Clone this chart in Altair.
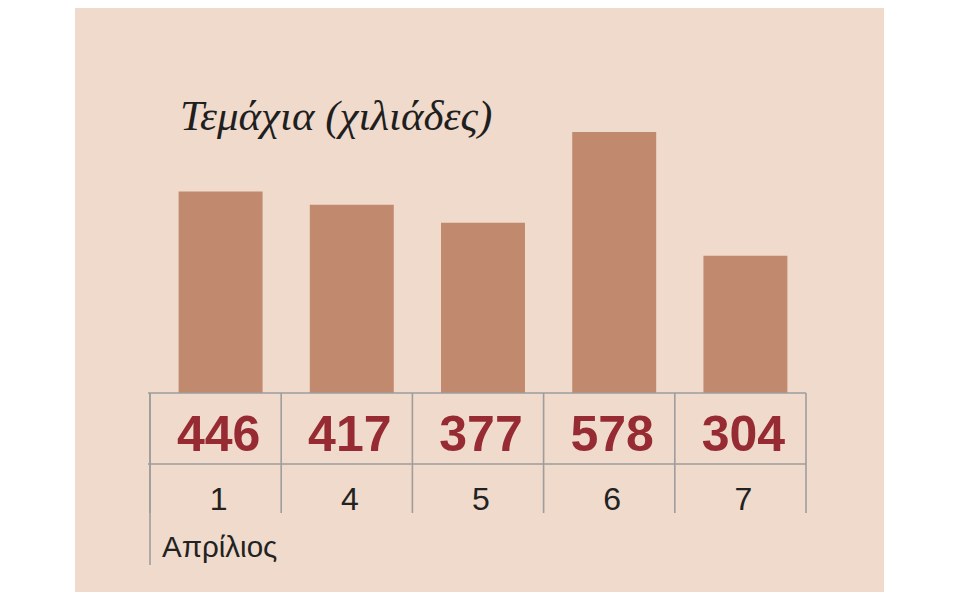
import altair as alt
import pandas as pd

# data
days = ["1", "4", "5", "6", "7"]
pieces = [446, 417, 377, 578, 304]
month_label = "Απρίλιος"
title_text = "Τεμάχια (χιλιάδες)"

PANEL = "#f0dacb"
BAR = "#c18a6f"
VALUE_RED = "#962b33"
GRID = "#9d9d9d"

W, H = 656, 261

df = pd.DataFrame({"day": days, "pieces": pieces})
x_scale = alt.Scale(domain=days, paddingInner=0, paddingOuter=0)
x_enc = alt.X("day:N", scale=x_scale, axis=None, sort=days)

base = alt.Chart(df)
one = base.transform_filter("datum.day == '1'")

panel = one.mark_rect(color=PANEL).encode(
    x=alt.value(-75), x2=alt.value(734), y=alt.value(-124), y2=alt.value(470)
)

bars = base.mark_bar(color=BAR, width={"band": 0.64}, xOffset=5).encode(
    x=x_enc,
    y=alt.Y("pieces:Q", scale=alt.Scale(domain=[0, max(pieces)], nice=False), axis=None),
)

values = base.mark_text(
    font="Liberation Sans", fontWeight="bold", fontSize=50, color=VALUE_RED,
    baseline="alphabetic", dx=3,
).encode(x=x_enc, y=alt.value(319), text="pieces:Q")

day_labels = base.mark_text(
    font="Liberation Sans", fontSize=32, color="#222222", baseline="alphabetic", dx=3,
).encode(x=x_enc, y=alt.value(378), text="day:N")

cell_lines = base.mark_rule(color=GRID, strokeWidth=1.6).encode(
    x=alt.X("day:N", scale=x_scale, axis=None, sort=days, bandPosition=0),
    y=alt.value(261), y2=alt.value(381),
)

last_line = one.mark_rule(color=GRID, strokeWidth=1.6).encode(
    x=alt.value(W), y=alt.value(261), y2=alt.value(381)
)
left_line = one.mark_rule(color=GRID, strokeWidth=1.6).encode(
    x=alt.value(0), y=alt.value(261), y2=alt.value(433)
)
row_lines = base.transform_filter("datum.day == '1' || datum.day == '4'").transform_calculate(
    yy="datum.day == '1' ? 261 : 332"
).mark_rule(color=GRID, strokeWidth=1.6).encode(
    x=alt.value(-2), x2=alt.value(W), y=alt.Y("yy:Q", scale=None)
)

month = one.mark_text(
    font="Liberation Sans", fontSize=29.5, color="#222222", align="left", baseline="alphabetic"
).encode(x=alt.value(12), y=alt.value(425), text=alt.value(month_label))

title = one.mark_text(
    font="Liberation Serif", fontStyle="italic", fontSize=43, color="#1f1f1f",
    align="left", baseline="alphabetic",
).encode(x=alt.value(30), y=alt.value(-2), text=alt.value(title_text))

chart = (
    alt.layer(panel, bars, row_lines, cell_lines, last_line, left_line, values, day_labels, month, title)
    .properties(
        width=W,
        height=H,
        padding={"left": 142, "top": 124, "right": 146, "bottom": 199},
        autosize=alt.AutoSizeParams(type="none"),
        background="white",
    )
    .configure_view(stroke=None)
)

chart.save("out.html", embed_options={"renderer": "svg", "actions": False})
